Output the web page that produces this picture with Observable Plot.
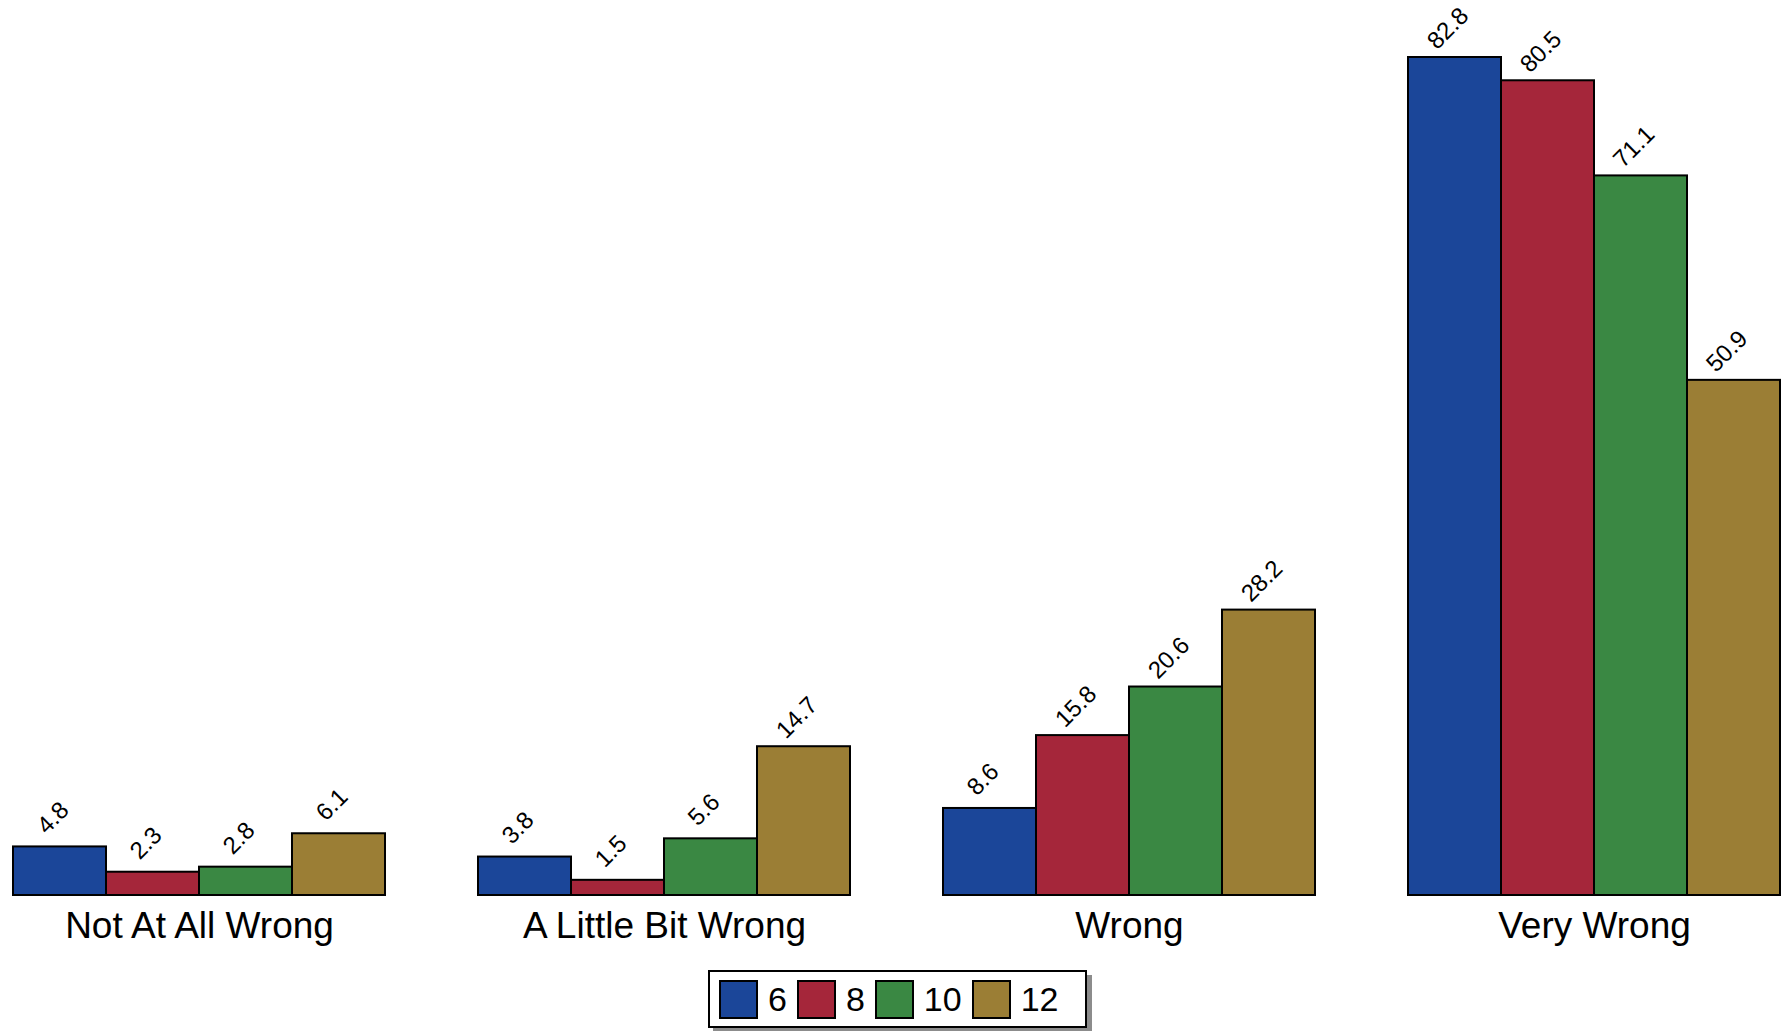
<!DOCTYPE html>
<html>
<head>
<meta charset="utf-8">
<script src="https://cdn.jsdelivr.net/npm/d3@7"></script>
<script src="https://cdn.jsdelivr.net/npm/@observablehq/plot@0.6"></script>
<style>
  html, body { margin: 0; padding: 0; background: #fff; }
  body { width: 1783px; height: 1031px; position: relative; overflow: hidden; font-family: "Liberation Sans", Arial, Helvetica, sans-serif; }
  #chart { position: absolute; left: 0; top: 0; }
  #legend { position: absolute; left: 708px; top: 970px; width: 375px; height: 54px; border: 2px solid #000; background: #fff; box-shadow: 5px 5px 0 #8c8c8c; display: flex; align-items: center; }
  .item { display: flex; align-items: center; }
  .sw { width: 35px; height: 35px; border: 2px solid #000; box-sizing: content-box; }
  .lab { font-size: 34px; color: #000; margin-left: 10px; margin-right: 10px; line-height: 1; }
</style>
</head>
<body>
<div id="chart"></div>
<div id="legend"></div>
<script>
const categories = ["Not At All Wrong", "A Little Bit Wrong", "Wrong", "Very Wrong"];
const grades = ["6", "8", "10", "12"];
const grade6 = [4.8, 3.8, 8.6, 82.8];
const grade8 = [2.3, 1.5, 15.8, 80.5];
const grade10 = [2.8, 5.6, 20.6, 71.1];
const grade12 = [6.1, 14.7, 28.2, 50.9];
const colors = ["#1b4699", "#a5263a", "#3a8843", "#9b7e35"];

const series = [grade6, grade8, grade10, grade12];
const data = [];
categories.forEach((c, i) => {
  grades.forEach((g, j) => {
    data.push({category: c, grade: g, value: series[j][i]});
  });
});

const W = 1783, H = 950;
const chart = Plot.plot({
  width: W,
  height: H,
  marginLeft: 11,
  marginRight: 2,
  marginTop: 57,
  marginBottom: H - 895,
  style: {fontFamily: '"Liberation Sans", Arial, Helvetica, sans-serif', background: "#fff"},
  fx: {domain: categories, paddingInner: 0.2, paddingOuter: 0, label: null, axis: "bottom", tickSize: 0, tickPadding: 16},
  x: {domain: grades, padding: 0, axis: null},
  y: {domain: [0, d3.max(data, d => d.value)], axis: null},
  color: {domain: grades, range: colors},
  marks: [
    Plot.barY(data, {fx: "category", x: "grade", y: "value", fill: "grade", stroke: "#000", strokeWidth: 2}),
    Plot.text(data, {fx: "category", x: "grade", y: "value", text: d => d.value.toFixed(1), rotate: -45, textAnchor: "middle", dx: -7, dy: -29, fontSize: 24, fill: "#000"})
  ]
});
document.getElementById("chart").appendChild(chart);
// enlarge facet axis labels
d3.select(chart).selectAll("g[aria-label^='fx-axis']").attr("font-size", 37);
d3.select(chart).selectAll("g[aria-label^='fx-axis'] text").attr("font-size", 37).style("font-size", "37px");

const legend = document.getElementById("legend");
grades.forEach((g, i) => {
  const item = document.createElement("div");
  item.className = "item";
  item.style.marginLeft = i === 0 ? "9px" : "0px";
  const sw = document.createElement("div");
  sw.className = "sw";
  sw.style.background = colors[i];
  const lab = document.createElement("span");
  lab.className = "lab";
  lab.textContent = g;
  item.appendChild(sw);
  item.appendChild(lab);
  legend.appendChild(item);
});
</script>
</body>
</html>
